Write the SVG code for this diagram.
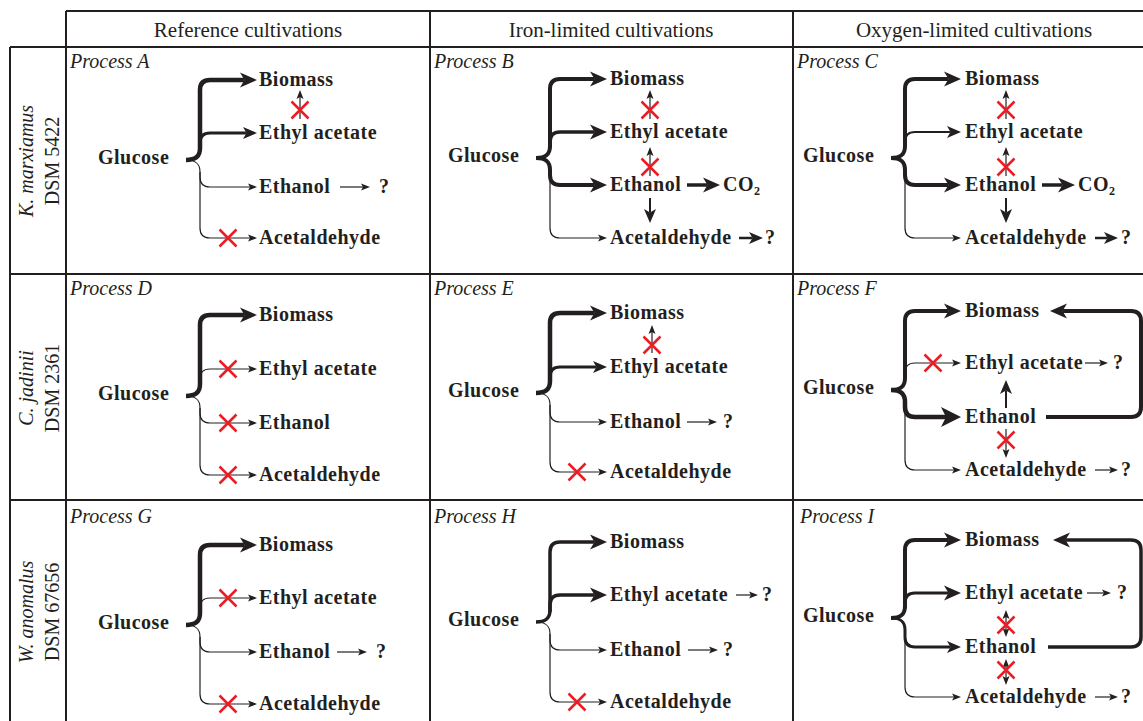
<svg xmlns="http://www.w3.org/2000/svg" width="1143" height="721" viewBox="0 0 1143 721">
<style>
.t{font-family:"Liberation Serif","Times New Roman",serif;fill:#231f20}
.b{font-weight:bold;font-size:20px;letter-spacing:0.5px}
.i{font-style:italic;font-size:20px}
.h{font-size:21px;text-anchor:middle}
.r{font-size:20px;text-anchor:middle}
.grid{stroke:#231f20;stroke-width:2;fill:none}
.c{fill:none;stroke:#231f20;stroke-linejoin:round}
.w1{stroke-width:1.2}.w2{stroke-width:2}.w25{stroke-width:2.5}.w3{stroke-width:3}.w35{stroke-width:3.5}.w4{stroke-width:4}.w45{stroke-width:4.5}
.mS{marker-end:url(#hS)}.mM{marker-end:url(#hM)}.mL{marker-end:url(#hL)}.mXL{marker-end:url(#hXL)}
.dS{marker-start:url(#hS2);marker-end:url(#hS)}
.x{stroke:#ed1c24;stroke-width:2.5;fill:none}
</style>
<defs>
<marker id="hXL" markerUnits="userSpaceOnUse" orient="auto" refX="5" refY="0" markerWidth="22" markerHeight="22" overflow="visible"><path d="M0,-10 L20,0 L0,10 L5,0 Z" fill="#231f20"/></marker>
<marker id="hL" markerUnits="userSpaceOnUse" orient="auto" refX="4.5" refY="0" markerWidth="20" markerHeight="20" overflow="visible"><path d="M0,-7.5 L17,0 L0,7.5 L4.5,0 Z" fill="#231f20"/></marker>
<marker id="hM" markerUnits="userSpaceOnUse" orient="auto" refX="3.5" refY="0" markerWidth="16" markerHeight="16" overflow="visible"><path d="M0,-6 L14,0 L0,6 L3.5,0 Z" fill="#231f20"/></marker>
<marker id="hS" markerUnits="userSpaceOnUse" orient="auto" refX="2" refY="0" markerWidth="10" markerHeight="10" overflow="visible"><path d="M0,-3.5 L9,0 L0,3.5 L2,0 Z" fill="#231f20"/></marker>
<marker id="hS2" markerUnits="userSpaceOnUse" orient="auto-start-reverse" refX="2" refY="0" markerWidth="10" markerHeight="10" overflow="visible"><path d="M0,-3.5 L9,0 L0,3.5 L2,0 Z" fill="#231f20"/></marker>
<path id="xm" class="x" d="M-8.5,-8.5 L8.5,8.5 M-8.5,8.5 L8.5,-8.5"/>
</defs>
<rect width="1143" height="721" fill="#ffffff"/>

<g id="table">
<path class="grid" d="M66,11 H1143 M10,47 H1143 M10,274 H1143 M10,500 H1143 M66,11 V721 M10,47 V721 M430,11 V721 M793,11 V721"/>
<text class="t h" x="248" y="37">Reference cultivations</text>
<text class="t h" x="611" y="37">Iron-limited cultivations</text>
<text class="t h" x="974" y="37">Oxygen-limited cultivations</text>
<text class="t r" font-style="italic" transform="translate(33,161) rotate(-90)">K. marxiamus</text>
<text class="t r" transform="translate(59,161) rotate(-90)">DSM 5422</text>
<text class="t r" font-style="italic" transform="translate(33,388) rotate(-90)">C. jadinii</text>
<text class="t r" transform="translate(59,388) rotate(-90)">DSM 2361</text>
<text class="t r" font-style="italic" transform="translate(33,612) rotate(-90)">W. anomalus</text>
<text class="t r" transform="translate(59,612) rotate(-90)">DSM 67656</text>
</g>

<!-- Process A -->
<g id="panelA">
<text class="t i" x="70" y="68">Process A</text>
<g id="A-glucose"><text class="t b" x="98" y="164">Glucose</text></g>
<g id="A-biomass"><text class="t b" x="259" y="85.5">Biomass</text></g>
<g id="A-ethylacetate"><text class="t b" x="259" y="138.5">Ethyl acetate</text></g>
<g id="A-ethanol"><text class="t b" x="259" y="192.5">Ethanol</text></g>
<g id="A-acetaldehyde"><text class="t b" x="259" y="243.5">Acetaldehyde</text></g>
<g id="A-q1"><text class="t b" x="379" y="192.5">?</text></g>
<g id="A-connectors">
<path class="c w45 mL" d="M186,160 C195,160 200,157 200,148 L200,90 Q200,80 210,80 L244.5,80"/>
<path class="c w3 mM" d="M200,150 L200,143 Q200,133 210,133 L246.5,133"/>
<path class="c w1 mS" d="M186,160 C195,160 200,163 200,172 L200,177 Q200,187 210,187 L250,187"/>
<path class="c w1 mS" d="M200,172 L200,228 Q200,238 210,238 L250,238"/>
<path class="c w1 mS" d="M300,119 L300,97"/>
<path class="c w1 mS" d="M340,187 L363,187"/>
<use href="#xm" x="300" y="110"/>
<use href="#xm" x="228" y="238"/>
</g>
</g>

<!-- Process B -->
<g id="panelB">
<text class="t i" x="434" y="68">Process B</text>
<g id="B-glucose"><text class="t b" x="448" y="162">Glucose</text></g>
<g id="B-biomass"><text class="t b" x="610" y="84.5">Biomass</text></g>
<g id="B-ethylacetate"><text class="t b" x="610" y="137.5">Ethyl acetate</text></g>
<g id="B-ethanol"><text class="t b" x="610" y="190.5">Ethanol</text></g>
<g id="B-co2"><text class="t b" x="723" y="190.5">CO<tspan font-size="12" dy="4">2</tspan></text></g>
<g id="B-acetaldehyde"><text class="t b" x="610" y="243.5">Acetaldehyde</text></g>
<g id="B-q1"><text class="t b" x="765" y="243.5">?</text></g>
<g id="B-connectors">
<path class="c w4 mL" d="M536,158 C545,158 550,155 550,146 L550,89 Q550,79 560,79 L594.5,79"/>
<path class="c w35 mL" d="M550,148 L550,142 Q550,132 560,132 L594.5,132"/>
<path class="c w4 mL" d="M536,158 C545,158 550,161 550,170 L550,175 Q550,185 560,185 L594.5,185"/>
<path class="c w1 mS" d="M550,172 L550,228 Q550,238 560,238 L600,238"/>
<path class="c w1 mS" d="M650,119 L650,97"/>
<path class="c w1 mS" d="M650,176 L650,154"/>
<path class="c w35 mL" d="M687,185 L707.5,185"/>
<path class="c w2 mM" d="M650,198 L650,212.5"/>
<path class="c w25 mM" d="M739,238 L752.5,238"/>
<use href="#xm" x="650" y="110"/>
<use href="#xm" x="650" y="167"/>
</g>
</g>

<!-- Process C -->
<g id="panelC">
<text class="t i" x="797" y="68">Process C</text>
<g id="C-glucose"><text class="t b" x="803" y="162">Glucose</text></g>
<g id="C-biomass"><text class="t b" x="965" y="84.5">Biomass</text></g>
<g id="C-ethylacetate"><text class="t b" x="965" y="137.5">Ethyl acetate</text></g>
<g id="C-ethanol"><text class="t b" x="965" y="190.5">Ethanol</text></g>
<g id="C-co2"><text class="t b" x="1078" y="190.5">CO<tspan font-size="12" dy="4">2</tspan></text></g>
<g id="C-acetaldehyde"><text class="t b" x="965" y="243.5">Acetaldehyde</text></g>
<g id="C-q1"><text class="t b" x="1121" y="243.5">?</text></g>
<g id="C-connectors">
<path class="c w4 mL" d="M891,158 C900,158 905,155 905,146 L905,89 Q905,79 915,79 L948.5,79"/>
<path class="c w2 mM" d="M905,148 L905,142 Q905,132 915,132 L950.5,132"/>
<path class="c w4 mL" d="M891,158 C900,158 905,161 905,170 L905,175 Q905,185 915,185 L948.5,185"/>
<path class="c w1 mS" d="M905,172 L905,228 Q905,238 915,238 L954,238"/>
<path class="c w1 mS" d="M1006,119 L1006,97"/>
<path class="c w1 mS" d="M1006,176 L1006,154"/>
<path class="c w35 mL" d="M1042,185 L1062.5,185"/>
<path class="c w2 mM" d="M1006,198 L1006,212.5"/>
<path class="c w25 mM" d="M1095,238 L1107.5,238"/>
<use href="#xm" x="1006" y="110"/>
<use href="#xm" x="1006" y="167"/>
</g>
</g>

<!-- Process D -->
<g id="panelD">
<text class="t i" x="70" y="295">Process D</text>
<g id="D-glucose"><text class="t b" x="98" y="400">Glucose</text></g>
<g id="D-biomass"><text class="t b" x="259" y="320.5">Biomass</text></g>
<g id="D-ethylacetate"><text class="t b" x="259" y="374.5">Ethyl acetate</text></g>
<g id="D-ethanol"><text class="t b" x="259" y="428.5">Ethanol</text></g>
<g id="D-acetaldehyde"><text class="t b" x="259" y="480.5">Acetaldehyde</text></g>
<g id="D-connectors">
<path class="c w45 mL" d="M186,396 C195,396 200,393 200,384 L200,325 Q200,315 210,315 L244.5,315"/>
<path class="c w1 mS" d="M200,384 L200,379 Q200,369 210,369 L250,369"/>
<path class="c w1 mS" d="M186,396 C195,396 200,399 200,408 L200,413 Q200,423 210,423 L250,423"/>
<path class="c w1 mS" d="M200,408 L200,465 Q200,475 210,475 L250,475"/>
<use href="#xm" x="228" y="369"/>
<use href="#xm" x="228" y="423"/>
<use href="#xm" x="228" y="475"/>
</g>
</g>

<!-- Process E -->
<g id="panelE">
<text class="t i" x="434" y="295">Process E</text>
<g id="E-glucose"><text class="t b" x="448" y="397">Glucose</text></g>
<g id="E-biomass"><text class="t b" x="610" y="318.5">Biomass</text></g>
<g id="E-ethylacetate"><text class="t b" x="610" y="372.5">Ethyl acetate</text></g>
<g id="E-ethanol"><text class="t b" x="610" y="427.5">Ethanol</text></g>
<g id="E-acetaldehyde"><text class="t b" x="610" y="477.5">Acetaldehyde</text></g>
<g id="E-q1"><text class="t b" x="723" y="427.5">?</text></g>
<g id="E-connectors">
<path class="c w45 mL" d="M536,393 C545,393 550,390 550,381 L550,323 Q550,313 560,313 L594.5,313"/>
<path class="c w3 mM" d="M550,383 L550,377 Q550,367 560,367 L596.5,367"/>
<path class="c w1 mS" d="M536,393 C545,393 550,396 550,405 L550,412 Q550,422 560,422 L600,422"/>
<path class="c w1 mS" d="M550,405 L550,462 Q550,472 560,472 L600,472"/>
<path class="c w1 mS" d="M652,353 L652,332"/>
<path class="c w1 mS" d="M687,422 L710,422"/>
<use href="#xm" x="652" y="345"/>
<use href="#xm" x="577" y="472"/>
</g>
</g>

<!-- Process F -->
<g id="panelF">
<text class="t i" x="797" y="295">Process F</text>
<g id="F-glucose"><text class="t b" x="803" y="394">Glucose</text></g>
<g id="F-biomass"><text class="t b" x="965" y="316.5">Biomass</text></g>
<g id="F-ethylacetate"><text class="t b" x="965" y="368.5">Ethyl acetate</text></g>
<g id="F-ethanol"><text class="t b" x="965" y="422.5">Ethanol</text></g>
<g id="F-acetaldehyde"><text class="t b" x="965" y="475.5">Acetaldehyde</text></g>
<g id="F-q1"><text class="t b" x="1113" y="368.5">?</text></g>
<g id="F-q2"><text class="t b" x="1121" y="475.5">?</text></g>
<g id="F-connectors">
<path class="c w4 mL" d="M891,390 C900,390 905,387 905,378 L905,321 Q905,311 915,311 L948.5,311"/>
<path class="c w1 mS" d="M905,378 L905,373 Q905,363 915,363 L954,363"/>
<path class="c w45 mXL" d="M891,390 C900,390 905,393 905,402 L905,407 Q905,417 915,417 L946,417"/>
<path class="c w1 mS" d="M905,402 L905,460 Q905,470 915,470 L954,470"/>
<path class="c w1 mS" d="M1085,363 L1101,363"/>
<path class="c w2 mM" d="M1006,408 L1006,390.5"/>
<path class="c w1 mS" d="M1006,429 L1006,451"/>
<path class="c w1 mS" d="M1095,470 L1111,470"/>
<path class="c w4 mL" d="M1046,417 L1131,417 Q1141,417 1141,407 L1141,321 Q1141,311 1131,311 L1062.5,311"/>
<use href="#xm" x="933" y="363"/>
<use href="#xm" x="1006" y="440"/>
</g>
</g>

<!-- Process G -->
<g id="panelG">
<text class="t i" x="70" y="523">Process G</text>
<g id="G-glucose"><text class="t b" x="98" y="629">Glucose</text></g>
<g id="G-biomass"><text class="t b" x="259" y="550.5">Biomass</text></g>
<g id="G-ethylacetate"><text class="t b" x="259" y="603.5">Ethyl acetate</text></g>
<g id="G-ethanol"><text class="t b" x="259" y="657.5">Ethanol</text></g>
<g id="G-acetaldehyde"><text class="t b" x="259" y="709.5">Acetaldehyde</text></g>
<g id="G-q1"><text class="t b" x="376" y="657.5">?</text></g>
<g id="G-connectors">
<path class="c w45 mL" d="M186,625 C195,625 200,622 200,613 L200,555 Q200,545 210,545 L244.5,545"/>
<path class="c w1 mS" d="M200,613 L200,608 Q200,598 210,598 L250,598"/>
<path class="c w1 mS" d="M186,625 C195,625 200,628 200,637 L200,642 Q200,652 210,652 L250,652"/>
<path class="c w1 mS" d="M200,637 L200,694 Q200,704 210,704 L250,704"/>
<path class="c w1 mS" d="M337,652 L360,652"/>
<use href="#xm" x="228" y="598"/>
<use href="#xm" x="228" y="704"/>
</g>
</g>

<!-- Process H -->
<g id="panelH">
<text class="t i" x="434" y="523">Process H</text>
<g id="H-glucose"><text class="t b" x="448" y="626">Glucose</text></g>
<g id="H-biomass"><text class="t b" x="610" y="547.5">Biomass</text></g>
<g id="H-ethylacetate"><text class="t b" x="610" y="600.5">Ethyl acetate</text></g>
<g id="H-ethanol"><text class="t b" x="610" y="655.5">Ethanol</text></g>
<g id="H-acetaldehyde"><text class="t b" x="610" y="707.5">Acetaldehyde</text></g>
<g id="H-q1"><text class="t b" x="762" y="600.5">?</text></g>
<g id="H-q2"><text class="t b" x="723" y="655.5">?</text></g>
<g id="H-connectors">
<path class="c w35 mL" d="M536,622 C545,622 550,619 550,610 L550,552 Q550,542 560,542 L594.5,542"/>
<path class="c w35 mL" d="M550,612 L550,605 Q550,595 560,595 L594.5,595"/>
<path class="c w1 mS" d="M536,622 C545,622 550,625 550,634 L550,640 Q550,650 560,650 L600,650"/>
<path class="c w1 mS" d="M550,634 L550,692 Q550,702 560,702 L600,702"/>
<path class="c w1 mS" d="M736,595 L751,595"/>
<path class="c w1 mS" d="M688,650 L711,650"/>
<use href="#xm" x="577" y="702"/>
</g>
</g>

<!-- Process I -->
<g id="panelI">
<text class="t i" x="800" y="523">Process I</text>
<g id="I-glucose"><text class="t b" x="803" y="622">Glucose</text></g>
<g id="I-biomass"><text class="t b" x="965" y="545.5">Biomass</text></g>
<g id="I-ethylacetate"><text class="t b" x="965" y="598.5">Ethyl acetate</text></g>
<g id="I-ethanol"><text class="t b" x="965" y="652.5">Ethanol</text></g>
<g id="I-acetaldehyde"><text class="t b" x="965" y="702.5">Acetaldehyde</text></g>
<g id="I-q1"><text class="t b" x="1117" y="598.5">?</text></g>
<g id="I-q2"><text class="t b" x="1121" y="702.5">?</text></g>
<g id="I-connectors">
<path class="c w4 mL" d="M891,618 C900,618 905,615 905,606 L905,550 Q905,540 915,540 L948.5,540"/>
<path class="c w3 mL" d="M905,608 L905,603 Q905,593 915,593 L948.5,593"/>
<path class="c w3 mM" d="M891,618 C900,618 905,621 905,630 L905,637 Q905,647 915,647 L950.5,647"/>
<path class="c w1 mS" d="M905,630 L905,687 Q905,697 915,697 L954,697"/>
<path class="c w1 mS" d="M1087,593 L1104,593"/>
<path class="c w1 mS" d="M1095,697 L1111,697"/>
<path class="c w1 dS" d="M1006,617 L1006,630"/>
<path class="c w1 dS" d="M1006,666 L1006,678"/>
<path class="c w35 mL" d="M1048,647 L1131,647 Q1141,647 1141,637 L1141,550 Q1141,540 1131,540 L1065.5,540"/>
<use href="#xm" x="1006" y="625"/>
<use href="#xm" x="1006" y="670"/>
</g>
</g>
</svg>
